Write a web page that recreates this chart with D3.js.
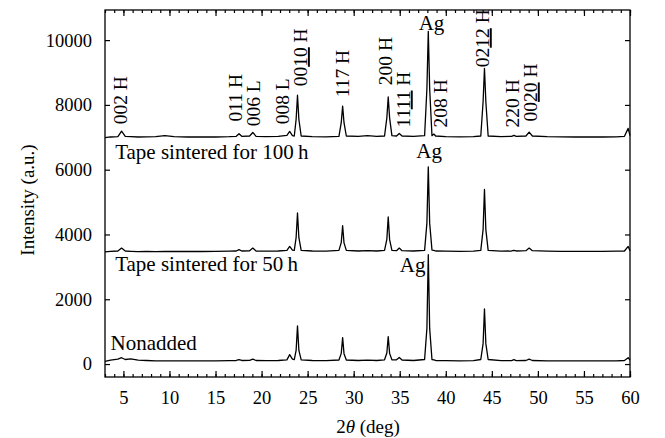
<!DOCTYPE html>
<html><head><meta charset="utf-8">
<script src="https://cdn.jsdelivr.net/npm/d3@7"></script>
<style>
body{margin:0;background:#fff;}
svg{display:block;}
svg text{font-family:"Liberation Serif","Times New Roman",serif;fill:#000;}
</style></head>
<body><svg id="c" width="665" height="438"></svg>
<script>
// 2θ sample positions (deg)
const twoTheta = [3.0,3.6,4.4,4.8,5.2,5.8,6.6,7.5,8.5,9.5,10.5,12,13.5,15,16.5,17.25,17.55,17.85,18.7,19.05,19.4,20.5,21.8,22.75,23.05,23.35,23.55,23.75,23.9,24.05,24.3,25.5,27,28.4,28.65,28.8,28.95,29.2,30.5,31.5,32.5,33.35,33.6,33.75,33.9,34.15,34.65,34.95,35.25,36.5,37.7,37.95,38.1,38.25,38.5,38.7,38.9,40,41.5,43,43.8,44.05,44.2,44.35,44.6,46,47.15,47.4,47.65,48.7,49.05,49.4,51,52.5,54,55.5,57,58.5,59.4,59.8,60.0];
// intensities (a.u., stacked)
const nonadded = [80,120,150,195,140,160,120,110,100,95,100,95,100,100,105,110,135,110,115,150,110,105,110,130,290,150,140,420,1180,420,130,110,105,125,330,815,320,125,110,120,110,130,340,845,330,130,130,205,125,110,140,1100,3375,1100,140,130,110,105,100,105,140,630,1700,630,140,105,105,135,105,110,150,110,100,100,95,100,100,100,110,195,120];
const sintered50 = [3460,3480,3490,3580,3490,3480,3470,3475,3470,3480,3475,3480,3475,3480,3485,3490,3530,3490,3495,3580,3490,3485,3490,3510,3630,3520,3510,3900,4665,3900,3510,3490,3485,3510,3750,4270,3740,3510,3490,3500,3490,3510,3850,4540,3840,3510,3500,3580,3500,3490,3510,4350,6090,4350,3520,3510,3490,3485,3480,3485,3510,4150,5390,4150,3510,3485,3490,3510,3490,3500,3580,3500,3485,3480,3480,3480,3480,3485,3490,3630,3500];
const sintered100 = [6990,7010,7020,7190,7030,7020,7010,7015,7020,7050,7020,7010,7015,7010,7020,7030,7110,7030,7040,7150,7030,7020,7030,7060,7180,7050,7040,7550,8300,7550,7040,7020,7015,7030,7450,7965,7450,7040,7030,7050,7030,7040,7600,8245,7600,7050,7040,7120,7040,7030,7050,8500,10270,8500,7050,7100,7040,7020,7015,7020,7040,8100,9130,8100,7040,7020,7030,7060,7030,7040,7160,7040,7020,7015,7010,7015,7010,7015,7030,7275,7050];

const seriesNames = ["Nonadded","Tape sintered for 50\u2009h","Tape sintered for 100\u2009h"];
const seriesLabelAngle = [3.6,4.1,4.1];
const seriesLabelLevel = [430,2880,6330];

const xTicks = [5,10,15,20,25,30,35,40,45,50,55,60];
const yTicks = [0,2000,4000,6000,8000,10000];

// peak labels: [prefix, underlined, suffix]
const peakLabels = [["002 H","",""],["011 H","",""],["006 L","",""],["008 L","",""],["00","10"," H"],["117 H","",""],["200 H","",""],["11","11"," H"],["208 H","",""],["02","12"," H"],["220 H","",""],["00","20"," H"]];
const peakLabelAngle = [4.67,17.14,19.09,22.23,24.18,28.74,33.4,35.35,39.37,43.93,47.19,49.14];
const peakLabelLevel = [7400,7490,7340,7400,8575,8235,8607,7306,7306,9164,7306,7490];

const agAngle = [36.4,38.2,38.45];
const agLevel = [2850,6360,10320];

const svg = d3.select("#c");
const L=105,R=630,T=10,B=377;
const x = d3.scaleLinear().domain([3,60]).range([L,R]);
const y = d3.scaleLinear().domain([-400,10930]).range([B,T]);
const FS = 18.5;

// axes
const gB = svg.append("g").attr("transform",`translate(0,${B})`)
  .call(d3.axisBottom(x).tickValues(d3.range(3,61,1)).tickSize(-3).tickFormat(""));
const gB2 = svg.append("g").attr("transform",`translate(0,${B})`)
  .call(d3.axisBottom(x).tickValues(xTicks).tickSize(-6).tickPadding(14).tickFormat(d3.format("d")));
const gT = svg.append("g").attr("transform",`translate(0,${T})`)
  .call(d3.axisTop(x).tickValues(d3.range(3,61,1)).tickSize(-3).tickFormat(""));
const gT2 = svg.append("g").attr("transform",`translate(0,${T})`)
  .call(d3.axisTop(x).tickValues(xTicks).tickSize(-6).tickFormat(""));
const gL = svg.append("g").attr("transform",`translate(${L},0)`)
  .call(d3.axisLeft(y).tickValues(yTicks).tickSize(-5).tickPadding(13).tickFormat(d3.format("d")));
const gR = svg.append("g").attr("transform",`translate(${R},0)`)
  .call(d3.axisRight(y).tickValues(yTicks).tickSize(-5).tickFormat(""));
[gB,gB2,gT,gT2,gL,gR].forEach(g=>{
  g.attr("font-family",null).attr("font-size",null);
  g.select(".domain").remove();
  g.selectAll("line").attr("stroke","#000").attr("stroke-width",1.2);
  g.selectAll("text").style("font-size",FS+"px").style("font-family","'Liberation Serif',serif").attr("fill","#000");
});
svg.append("rect").attr("x",L).attr("y",T).attr("width",R-L).attr("height",B-T)
  .attr("fill","none").attr("stroke","#000").attr("stroke-width",1.3);

// series lines
const line = d3.line().x((d,i)=>x(twoTheta[i])).y(d=>y(d));
[nonadded,sintered50,sintered100].forEach(s=>{
  svg.append("path").attr("d",line(s)).attr("fill","none").attr("stroke","#000").attr("stroke-width",1.3).attr("stroke-linejoin","round");
});

// series labels
seriesNames.forEach((n,i)=>{
  svg.append("text").attr("x",x(seriesLabelAngle[i])).attr("y",y(seriesLabelLevel[i]))
    .style("font-size","21px").text(n);
});

// Ag labels
agAngle.forEach((a,i)=>{
  svg.append("text").attr("x",x(a)).attr("y",y(agLevel[i])).attr("text-anchor","middle")
    .style("font-size","21px").text("Ag");
});

// peak labels
peakLabels.forEach((p,i)=>{
  const px=x(peakLabelAngle[i]), py=y(peakLabelLevel[i]);
  const t=svg.append("text").attr("transform",`translate(${px},${py}) rotate(-90)`)
    .attr("dy","0.35em").style("font-size","19.5px");
  t.append("tspan").text(p[0]);
  if(p[1]) t.append("tspan").attr("text-decoration","underline").text(p[1]);
  if(p[2]) t.append("tspan").text(p[2]);
});

// axis titles
svg.append("text").attr("transform",`translate(${34},${200}) rotate(-90)`)
  .attr("text-anchor","middle").style("font-size","19px").text("Intensity (a.u.)");
const xt=svg.append("text").attr("x",368).attr("y",433).attr("text-anchor","middle").style("font-size","19px");
xt.append("tspan").text("2");
xt.append("tspan").attr("font-style","italic").text("\u03b8");
xt.append("tspan").text(" (deg)");
</script></body></html>
